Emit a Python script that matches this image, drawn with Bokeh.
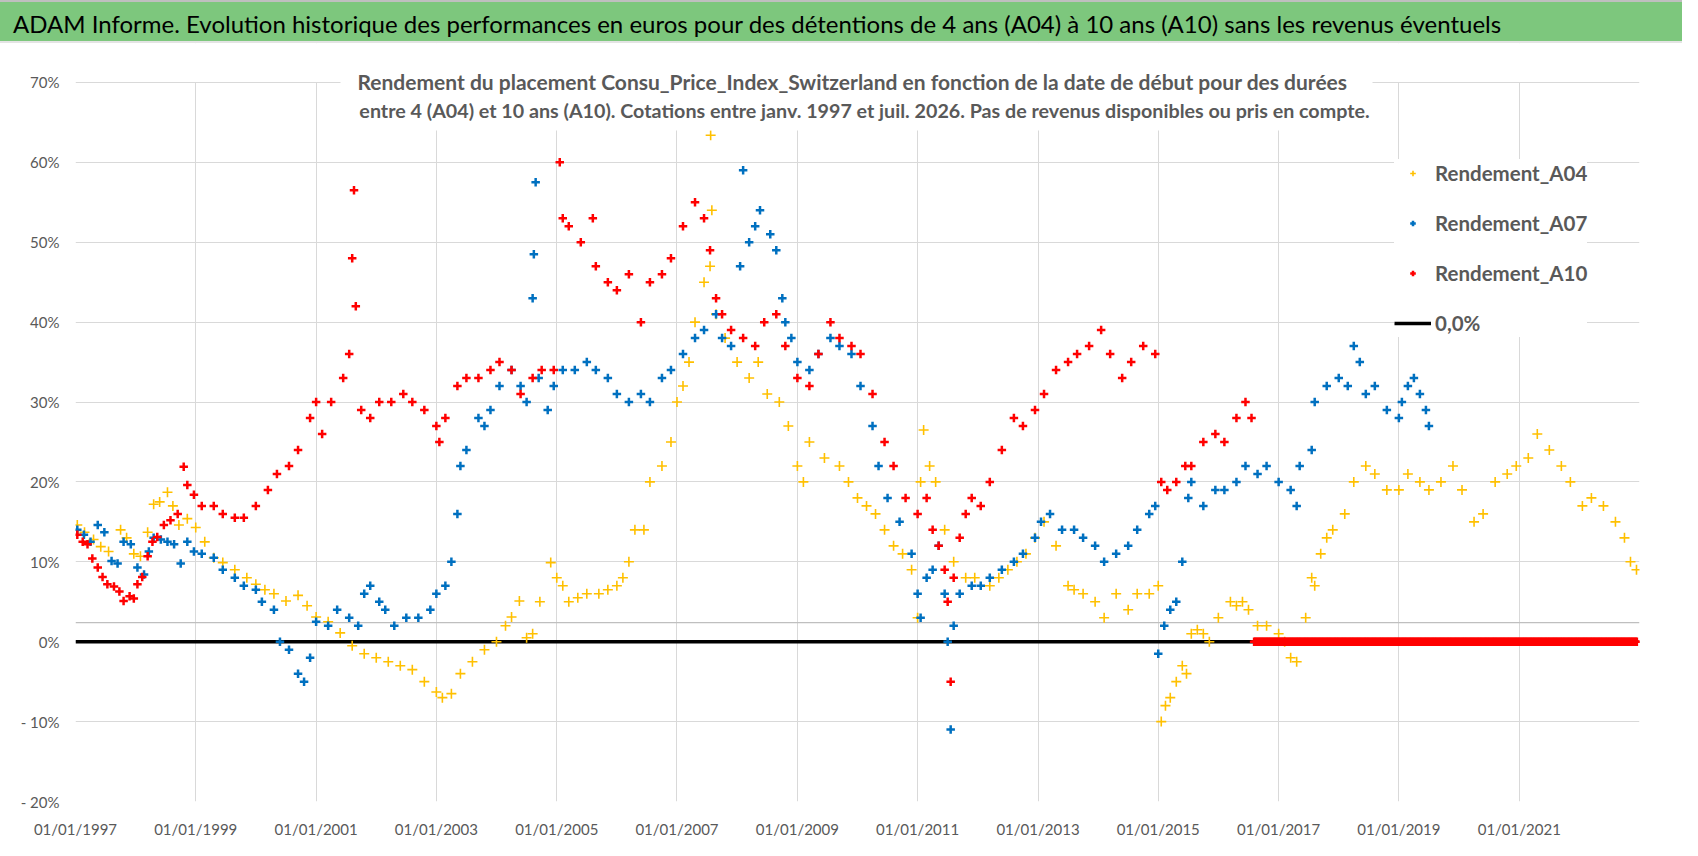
import numpy as np
import pandas as pd
from bokeh.plotting import figure
from bokeh.models import (Range1d, FixedTicker, Legend, LegendItem, Label,
                          BoxAnnotation, DatetimeTickFormatter, Div)
from bokeh.layouts import column
from bokeh.embed import file_html
from bokeh.resources import INLINE

TITLE = ("ADAM Informe. Evolution historique des performances en euros pour des "
         "détentions de 4 ans (A04) à 10 ans (A10) sans les revenus éventuels")
SUB1 = ("Rendement du placement Consu_Price_Index_Switzerland en fonction de la date "
        "de début pour des durées")
SUB2 = ("entre 4 (A04) et 10 ans (A10). Cotations entre janv. 1997 et juil. 2026. "
        "Pas de revenus disponibles ou pris en compte.")
SERIES_NAMES = ["Rendement_A04", "Rendement_A07", "Rendement_A10", "0,0%"]
COLORS = ["#FFC000", "#0070C0", "#FF0000"]

A04_YEAR = [1997.03, 1997.15, 1997.3, 1997.42, 1997.55, 1997.75, 1997.85, 1997.97, 1998.08, 1998.2,
            1998.3, 1998.4, 1998.53, 1998.62, 1998.72, 1998.86, 1999.0, 1999.15, 1999.3, 1999.45,
            1999.65, 1999.85, 2000.0, 2000.15, 2000.3, 2000.5, 2000.7, 2000.85, 2001.0, 2001.2,
            2001.4, 2001.6, 2001.8, 2002.0, 2002.2, 2002.4, 2002.6, 2002.8, 2003.0, 2003.1,
            2003.25, 2003.4, 2003.6, 2003.8, 2004.0, 2004.15, 2004.25, 2004.38, 2004.5, 2004.6,
            2004.72, 2004.9, 2005.0, 2005.1, 2005.2, 2005.35, 2005.5, 2005.7, 2005.85, 2006.0,
            2006.1, 2006.2, 2006.3, 2006.45, 2006.55, 2006.75, 2006.9, 2007.0, 2007.1, 2007.2,
            2007.3, 2007.45, 2007.55, 2007.56, 2007.58, 2007.65, 2007.8, 2008.0, 2008.2, 2008.35,
            2008.5, 2008.7, 2008.85, 2009.0, 2009.1, 2009.2, 2009.45, 2009.7, 2009.85, 2010.0,
            2010.15, 2010.3, 2010.45, 2010.6, 2010.75, 2010.9, 2011.0, 2011.05, 2011.1, 2011.2,
            2011.3, 2011.45, 2011.6, 2011.8, 2011.95, 2012.2, 2012.35, 2012.5, 2012.65, 2012.8,
            2012.95, 2013.1, 2013.3, 2013.5, 2013.6, 2013.75, 2013.95, 2014.1, 2014.3, 2014.5,
            2014.65, 2014.85, 2015.0, 2015.05, 2015.12, 2015.2, 2015.3, 2015.4, 2015.47, 2015.55,
            2015.65, 2015.75, 2015.85, 2016.0, 2016.2, 2016.3, 2016.4, 2016.5, 2016.65, 2016.8,
            2017.0, 2017.1, 2017.2, 2017.3, 2017.45, 2017.55, 2017.6, 2017.7, 2017.8, 2017.9,
            2018.1, 2018.25, 2018.45, 2018.6, 2018.8, 2019.0, 2019.15, 2019.35, 2019.5, 2019.7,
            2019.9, 2020.05, 2020.25, 2020.4, 2020.6, 2020.8, 2020.95, 2021.15, 2021.3, 2021.5,
            2021.7, 2021.85, 2022.05, 2022.2, 2022.4, 2022.6, 2022.75, 2022.85, 2022.95]
A04_VAL = [14.6, 13.7, 12.8, 11.9, 11.3, 14.0, 13.0, 11.0, 10.7, 13.7,
           17.2, 17.5, 18.7, 17.0, 14.6, 15.4, 14.3, 12.5, 10.5, 9.9,
           9.0, 8.0, 7.2, 6.5, 6.0, 5.1, 5.8, 4.5, 3.1, 2.5,
           1.1, -0.5, -1.5, -2.0, -2.5, -3.0, -3.5, -5.0, -6.3, -7.0,
           -6.5, -4.0, -2.5, -1.0, 0.0, 2.0, 3.1, 5.1, 0.5, 1.0,
           5.0, 9.9, 8.0, 7.0, 5.0, 5.5, 6.0, 6.0, 6.5, 7.0,
           8.0, 10.0, 14.0, 14.0, 20.0, 22.0, 25.0, 30.0, 32.0, 35.0,
           40.0, 45.0, 47.0, 63.4, 54.0, 41.0, 38.0, 35.0, 33.0, 35.0,
           31.0, 30.0, 27.0, 22.0, 20.0, 25.0, 23.0, 22.0, 20.0, 18.0,
           17.0, 16.0, 14.0, 12.0, 11.0, 9.0, 3.0, 20.0, 26.5, 22.0,
           20.0, 14.0, 10.0, 8.0, 8.0, 7.0, 8.0, 9.0, 10.0, 11.0,
           13.0, 15.0, 12.0, 7.0, 6.5, 6.0, 5.0, 3.0, 6.0, 4.0,
           6.0, 6.0, 7.0, -10.0, -8.0, -7.0, -5.0, -3.0, -4.0, 1.0,
           1.5, 1.0, 0.0, 3.0, 5.0, 4.5, 5.0, 4.0, 2.0, 2.0,
           1.0, 0.0, -2.0, -2.5, 3.0, 8.0, 7.0, 11.0, 13.0, 14.0,
           16.0, 20.0, 22.0, 21.0, 19.0, 19.0, 21.0, 20.0, 19.0, 20.0,
           22.0, 19.0, 15.0, 16.0, 20.0, 21.0, 22.0, 23.0, 26.0, 24.0,
           22.0, 20.0, 17.0, 18.0, 17.0, 15.0, 13.0, 10.0, 9.0]

A07_YEAR = [1997.03, 1997.14, 1997.25, 1997.37, 1997.48, 1997.6, 1997.7, 1997.8, 1997.92, 1998.03,
            1998.14, 1998.22, 1998.3, 1998.42, 1998.53, 1998.64, 1998.75, 1998.86, 1998.97, 1999.1,
            1999.3, 1999.45, 1999.65, 1999.8, 2000.0, 2000.1, 2000.3, 2000.4, 2000.55, 2000.7,
            2000.8, 2000.9, 2001.0, 2001.2, 2001.35, 2001.55, 2001.7, 2001.8, 2001.9, 2002.05,
            2002.15, 2002.3, 2002.5, 2002.7, 2002.9, 2003.0, 2003.15, 2003.25, 2003.35, 2003.4,
            2003.5, 2003.7, 2003.8, 2003.9, 2004.05, 2004.25, 2004.4, 2004.5, 2004.6, 2004.62,
            2004.65, 2004.7, 2004.85, 2004.95, 2005.1, 2005.3, 2005.5, 2005.65, 2005.85, 2006.0,
            2006.2, 2006.4, 2006.55, 2006.75, 2006.9, 2007.1, 2007.3, 2007.45, 2007.65, 2007.75,
            2007.9, 2008.05, 2008.1, 2008.2, 2008.3, 2008.38, 2008.55, 2008.65, 2008.75, 2008.8,
            2008.9, 2009.0, 2009.2, 2009.35, 2009.55, 2009.7, 2009.9, 2010.05, 2010.25, 2010.35,
            2010.5, 2010.7, 2010.9, 2011.0, 2011.05, 2011.15, 2011.25, 2011.35, 2011.45, 2011.5,
            2011.55, 2011.6, 2011.7, 2011.9, 2012.05, 2012.2, 2012.4, 2012.6, 2012.75, 2012.95,
            2013.05, 2013.2, 2013.4, 2013.6, 2013.75, 2013.95, 2014.1, 2014.3, 2014.5, 2014.65,
            2014.85, 2014.95, 2015.0, 2015.1, 2015.2, 2015.3, 2015.4, 2015.5, 2015.55, 2015.75,
            2015.95, 2016.1, 2016.3, 2016.45, 2016.65, 2016.8, 2017.0, 2017.2, 2017.3, 2017.35,
            2017.55, 2017.6, 2017.8, 2018.0, 2018.15, 2018.25, 2018.35, 2018.45, 2018.6, 2018.8,
            2019.0, 2019.05, 2019.15, 2019.25, 2019.35, 2019.45, 2019.5]
A07_VAL = [14.0, 13.4, 12.5, 14.6, 13.7, 10.1, 9.8, 12.5, 12.2, 9.3,
           8.4, 11.3, 13.0, 12.8, 12.5, 12.2, 9.8, 12.5, 11.3, 11.0,
           10.5, 9.0, 8.0, 7.0, 6.5, 5.0, 4.0, 0.0, -1.0, -4.0,
           -5.0, -2.0, 2.5, 2.0, 4.0, 3.0, 2.0, 6.0, 7.0, 5.0,
           4.0, 2.0, 3.0, 3.0, 4.0, 6.0, 7.0, 10.0, 16.0, 22.0,
           24.0, 28.0, 27.0, 29.0, 32.0, 34.0, 32.0, 30.0, 43.0, 48.5,
           57.5, 33.0, 29.0, 32.0, 34.0, 34.0, 35.0, 34.0, 33.0, 31.0,
           30.0, 31.0, 30.0, 33.0, 34.0, 36.0, 38.0, 39.0, 41.0, 38.0,
           37.0, 47.0, 59.0, 50.0, 52.0, 54.0, 51.0, 49.0, 43.0, 40.0,
           38.0, 35.0, 34.0, 36.0, 38.0, 37.0, 36.0, 32.0, 27.0, 22.0,
           18.0, 15.0, 11.0, 6.0, 3.0, 8.0, 9.0, 12.0, 6.0, 0.0,
           -11.0, 2.0, 6.0, 7.0, 7.0, 8.0, 9.0, 10.0, 11.0, 13.0,
           15.0, 16.0, 14.0, 14.0, 13.0, 12.0, 10.0, 11.0, 12.0, 14.0,
           16.0, 17.0, -1.5, 2.0, 4.0, 5.0, 10.0, 18.0, 20.0, 17.0,
           19.0, 19.0, 20.0, 22.0, 21.0, 22.0, 20.0, 19.0, 17.0, 22.0,
           24.0, 30.0, 32.0, 33.0, 32.0, 37.0, 35.0, 31.0, 32.0, 29.0,
           28.0, 30.0, 32.0, 33.0, 31.0, 29.0, 27.0]

A10_YEAR = [1997.03, 1997.12, 1997.2, 1997.28, 1997.37, 1997.45, 1997.53, 1997.64, 1997.73, 1997.8,
            1997.9, 1997.97, 1998.03, 1998.11, 1998.2, 1998.28, 1998.36, 1998.47, 1998.58, 1998.7,
            1998.8, 1998.86, 1998.97, 1999.1, 1999.3, 1999.45, 1999.65, 1999.8, 2000.0, 2000.2,
            2000.35, 2000.55, 2000.7, 2000.9, 2001.0, 2001.1, 2001.25, 2001.45, 2001.55, 2001.6,
            2001.63, 2001.66, 2001.75, 2001.9, 2002.05, 2002.25, 2002.45, 2002.6, 2002.8, 2003.0,
            2003.05, 2003.15, 2003.35, 2003.5, 2003.7, 2003.9, 2004.05, 2004.25, 2004.4, 2004.6,
            2004.75, 2004.95, 2005.05, 2005.1, 2005.2, 2005.4, 2005.6, 2005.65, 2005.85, 2006.0,
            2006.2, 2006.4, 2006.55, 2006.75, 2006.9, 2007.1, 2007.3, 2007.45, 2007.55, 2007.65,
            2007.75, 2007.9, 2008.1, 2008.3, 2008.45, 2008.65, 2008.8, 2009.0, 2009.2, 2009.35,
            2009.55, 2009.7, 2009.9, 2010.05, 2010.25, 2010.45, 2010.6, 2010.8, 2011.0, 2011.15,
            2011.25, 2011.35, 2011.45, 2011.5, 2011.55, 2011.6, 2011.7, 2011.8, 2011.9, 2012.05,
            2012.2, 2012.4, 2012.6, 2012.75, 2012.95, 2013.1, 2013.3, 2013.5, 2013.65, 2013.85,
            2014.05, 2014.2, 2014.4, 2014.55, 2014.75, 2014.95, 2015.05, 2015.15, 2015.3, 2015.45,
            2015.55, 2015.75, 2015.95, 2016.1, 2016.3, 2016.45, 2016.55]
A10_VAL = [13.4, 12.5, 12.2, 10.4, 9.3, 8.1, 7.2, 6.9, 6.3, 5.1,
           5.7, 5.4, 7.2, 8.1, 10.7, 12.5, 13.1, 14.6, 15.2, 16.0,
           21.9, 19.6, 18.4, 17.0, 17.0, 16.0, 15.5, 15.5, 17.0, 19.0,
           21.0, 22.0, 24.0, 28.0, 30.0, 26.0, 30.0, 33.0, 36.0, 48.0,
           56.5, 42.0, 29.0, 28.0, 30.0, 30.0, 31.0, 30.0, 29.0, 27.0,
           25.0, 28.0, 32.0, 33.0, 33.0, 34.0, 35.0, 34.0, 31.0, 33.0,
           34.0, 34.0, 60.0, 53.0, 52.0, 50.0, 53.0, 47.0, 45.0, 44.0,
           46.0, 40.0, 45.0, 46.0, 48.0, 52.0, 55.0, 53.0, 49.0, 43.0,
           41.0, 39.0, 38.0, 37.0, 40.0, 41.0, 37.0, 33.0, 32.0, 36.0,
           40.0, 38.0, 37.0, 36.0, 31.0, 25.0, 22.0, 18.0, 16.0, 18.0,
           14.0, 12.0, 9.0, 5.0, -5.0, 8.0, 13.0, 16.0, 18.0, 17.0,
           20.0, 24.0, 28.0, 27.0, 29.0, 31.0, 34.0, 35.0, 36.0, 37.0,
           39.0, 36.0, 33.0, 35.0, 37.0, 36.0, 20.0, 19.0, 20.0, 22.0,
           22.0, 25.0, 26.0, 25.0, 28.0, 30.0, 28.0]

# A10 is 0 (no data yet) from this date to the end of quotations, weekly points
A10_ZERO_START = "2016-08-05"
A10_ZERO_END = "2022-12-16"
ZERO_LINE_YEAR = [1997.0, 2022.97]
ZERO_LINE_VAL = [0.0, 0.0]
GRAY_LINE_YEAR = [1997.0, 2023.0]
GRAY_LINE_VAL = [2.4, 2.4]

X_TICK_YEARS = list(range(1997, 2024, 2))
Y_TICKS = list(range(-20, 71, 10))


def to_dt(years):
    y = np.asarray(years, dtype=float)
    base = np.floor(y).astype(int)
    starts = pd.to_datetime([f"{b}-01-01" for b in base])
    ends = pd.to_datetime([f"{b + 1}-01-01" for b in base])
    return starts + (ends - starts) * (y - base)


def ms(ts):
    return pd.Timestamp(ts).value / 1e6


FONT = "Lato"
GREY_TXT = "#595959"
GRID = "#D9D9D9"

W = 1682
TH = 43
MH = 797
PX_PER_PCT = 8.0
FRAME_H = 759
Y_MIN = -20.0
Y_MAX = Y_MIN + FRAME_H / PX_PER_PCT

# ---- title bar ----
title_div = Div(text=TITLE, width=W, height=TH, margin=0,
                styles={"background-color": "#7DC77D", "color": "black",
                        "font-family": "Lato", "font-size": "24px",
                        "line-height": "44px", "padding-left": "13px",
                        "box-sizing": "border-box", "white-space": "nowrap",
                        "border-top": "2px solid #BFBFBF",
                        "border-bottom": "2px solid #E4E4E4"})

# ---- main chart ----
x0 = pd.Timestamp("1997-01-01")
x1 = pd.Timestamp("2023-01-01")
p = figure(width=W, height=MH, x_axis_type="datetime",
           x_range=Range1d(x0, x1), y_range=Range1d(Y_MIN, Y_MAX),
           toolbar_location=None, output_backend="svg",
           min_border_left=75, min_border_right=43, min_border_top=0, min_border_bottom=38)
p.background_fill_color = "white"
p.border_fill_color = "white"
p.outline_line_color = None

xt = [ms(f"{y}-01-01") for y in X_TICK_YEARS]
p.xaxis.ticker = FixedTicker(ticks=xt)
fmt = "%d/%m/%Y"
p.xaxis.formatter = DatetimeTickFormatter(years=fmt, months=fmt, days=fmt, hours=fmt,
                                          minutes=fmt, seconds=fmt, milliseconds=fmt,
                                          microseconds=fmt, hourmin=fmt, minsec=fmt)
p.xaxis.major_label_overrides = {xt[-1]: ""}
p.yaxis.ticker = FixedTicker(ticks=Y_TICKS)
p.yaxis.major_label_overrides = {v: (f"{v}%" if v >= 0 else f"- {abs(v)}%") for v in Y_TICKS}
for ax in (p.xaxis[0], p.yaxis[0]):
    ax.axis_line_color = None
    ax.major_tick_line_color = None
    ax.minor_tick_line_color = None
    ax.major_tick_out = 0
    ax.major_tick_in = 0
    ax.major_label_text_font = FONT
    ax.major_label_text_font_size = "15px"
    ax.major_label_text_color = GREY_TXT
p.yaxis.major_label_standoff = 16
p.xaxis.major_label_standoff = 18
p.xgrid.grid_line_color = GRID
p.ygrid.grid_line_color = GRID

r_zero = p.line(to_dt(ZERO_LINE_YEAR), ZERO_LINE_VAL, line_color="black", line_width=3.5)
p.line(to_dt(GRAY_LINE_YEAR), GRAY_LINE_VAL, line_color="#BFBFBF", line_width=1.3)

r04 = p.scatter(to_dt(A04_YEAR), A04_VAL, marker="cross", size=10,
                line_color=COLORS[0], line_width=1.6)
r07 = p.scatter(to_dt(A07_YEAR), A07_VAL, marker="cross", size=8.5,
                line_color=COLORS[1], line_width=2.5)
r10 = p.scatter(to_dt(A10_YEAR), A10_VAL, marker="cross", size=8.5,
                line_color=COLORS[2], line_width=2.5)
zd = pd.date_range(A10_ZERO_START, A10_ZERO_END, freq="7D")
p.scatter(zd, np.zeros(len(zd)), marker="cross", size=8.5,
          line_color=COLORS[2], line_width=2.5)

span = ms(x1) - ms(x0)


def sx(px):
    return ms(x0) + (px - 75) / 1564 * span


# blank band above the 70% gridline (chart area above the plot)
p.add_layout(BoxAnnotation(left=ms(x0) - span, right=ms(x1) + span, bottom=70.07, top=Y_MAX + 5,
                           fill_color="white", fill_alpha=1.0, line_color=None))
# white box behind the chart subtitle
p.add_layout(BoxAnnotation(left=sx(340), right=sx(1372), bottom=64.0, top=Y_MAX + 5,
                           fill_color="white", fill_alpha=1.0, line_color=None))
p.add_layout(Label(x=sx(852), y=70.1, text=SUB1, text_font=FONT, text_font_size="21px",
                   text_font_style="bold", text_color=GREY_TXT, text_align="center",
                   text_baseline="middle"))
p.add_layout(Label(x=sx(864), y=66.5, text=SUB2, text_font=FONT, text_font_size="19.7px",
                   text_font_style="bold", text_color=GREY_TXT, text_align="center",
                   text_baseline="middle"))

legend = Legend(items=[LegendItem(label=SERIES_NAMES[0], renderers=[r04]),
                       LegendItem(label=SERIES_NAMES[1], renderers=[r07]),
                       LegendItem(label=SERIES_NAMES[2], renderers=[r10]),
                       LegendItem(label=SERIES_NAMES[3], renderers=[r_zero])],
                location=(1319, 464), orientation="vertical",
                glyph_width=37, glyph_height=14, label_height=28, spacing=22,
                padding=10, margin=0, label_standoff=4,
                label_text_font=FONT, label_text_font_size="20.5px",
                label_text_font_style="bold", label_text_color=GREY_TXT,
                background_fill_color="white", background_fill_alpha=1.0,
                border_line_color=None)
p.add_layout(legend, "center")

layout = column(title_div, p, spacing=0)
open("out.html", "w").write(file_html(layout, INLINE))
